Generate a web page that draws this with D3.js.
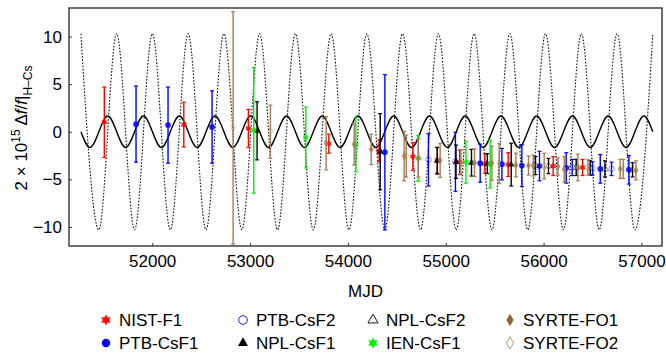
<!DOCTYPE html>
<html>
<head>
<meta charset="utf-8">
<script src="https://cdn.jsdelivr.net/npm/d3@7"></script>
<style>
body { margin: 0; background: #fff; }
text { font-family: "Liberation Sans", Arial, sans-serif; }
</style>
</head>
<body>
<div id="chart"></div>
<script>
'use strict';

// each point: [MJD, 2e15*df/f, error]
var nistF1 = [[51511, 1.0, 3.7], [52323, 0.75, 2.35], [52983, 0.35, 2.0], [53805, -1.25, 1.0],
    [54319, -2.0, 1.15], [54664, -2.6, 1.45], [54914, -3.0, 1.35], [55142, -3.2, 1.3],
    [55400, -3.35, 1.0], [55638, -3.45, 1.25], [56098, -3.6, 1.0], [56398, -3.75, 0.85]];
var ptbCsF1 = [[51835, 0.8, 4.0], [52162, 0.7, 4.0], [52612, 0.5, 3.8], [54378, -2.15, 8.15],
    [55352, -3.3, 2.0], [55574, -3.4, 1.65], [55778, -3.55, 2.2], [55958, -3.6, 1.55],
    [56231, -3.8, 1.6], [56579, -3.9, 1.5], [56872, -4.0, 1.5]];
var ptbCsF2 = [[54823, -2.95, 2.75], [55099, -3.15, 3.1], [56292, -3.75, 0.85],
    [56500, -3.85, 0.7], [56694, -3.9, 0.7]];
var nplCsF1 = [[53072, 0.1, 3.05], [54330, -2.1, 4.0], [54913, -3.05, 1.4], [55105, -3.15, 1.75],
    [55263, -3.25, 1.4], [55425, -3.35, 1.05], [55669, -3.45, 2.25]];
var nplCsF2 = [[55917, -3.55, 0.95], [56050, -3.6, 0.8], [56333, -3.75, 0.85],
    [56476, -3.8, 0.75], [56627, -3.9, 0.85], [56909, -4.0, 0.75]];
var ienCsF1 = [[53038, 0.15, 6.6], [53570, -0.6, 3.2], [54081, -1.35, 2.85], [54718, -2.8, 2.4],
    [55206, -3.2, 2.2], [55454, -3.4, 2.5]];
var syrteFO1 = [[53778, -1.2, 2.8], [54064, -1.3, 2.2], [54238, -1.85, 1.6], [54575, -2.55, 2.6],
    [54721, -2.75, 2.0], [54943, -3.0, 1.8], [55294, -3.25, 1.45], [55472, -3.3, 1.8],
    [55717, -3.5, 1.25], [55846, -3.55, 1.0], [55895, -3.55, 1.1], [56146, -3.65, 0.9],
    [56211, -3.95, 1.35], [56350, -3.75, 1.4], [56783, -3.9, 1.0], [56944, -4.05, 1.0]];
var syrteFO2 = [[52827, 0.4, 12.2], [53208, 0.0, 2.8], [54596, -2.55, 2.2], [55155, -3.2, 1.3],
    [55546, -3.35, 2.1], [56006, -3.6, 1.35], [56453, -3.75, 0.8], [56814, -3.9, 1.0]];

// model curves read at their turning points: [MJD, value]
var modelSolid = [[51272, 0], [51364, -1.65], [51546, 1.65], [51729, -1.65], [51911, 1.65],
    [52094, -1.65], [52277, 1.65], [52459, -1.65], [52642, 1.65], [52825, -1.65], [53007, 1.65],
    [53190, -1.65], [53373, 1.65], [53555, -1.65], [53738, 1.65], [53920, -1.65], [54103, 1.65],
    [54286, -1.65], [54468, 1.65], [54651, -1.65], [54834, 1.65], [55016, -1.65], [55199, 1.65],
    [55381, -1.65], [55564, 1.65], [55747, -1.65], [55929, 1.65], [56112, -1.65], [56295, 1.65],
    [56477, -1.65], [56660, 1.65], [56842, -1.65], [57025, 1.65], [57116, 0]];
var modelDotted = [[51272, 10.3], [51455, -10.3], [51637, 10.3], [51820, -10.3], [52002, 10.3],
    [52185, -10.3], [52368, 10.3], [52550, -10.3], [52733, 10.3], [52916, -10.3], [53098, 10.3],
    [53281, -10.3], [53464, 10.3], [53646, -10.3], [53829, 10.3], [54011, -10.3], [54194, 10.3],
    [54377, -10.3], [54559, 10.3], [54742, -10.3], [54925, 10.3], [55107, -10.3], [55290, 10.3],
    [55472, -10.3], [55655, 10.3], [55838, -10.3], [56020, 10.3], [56203, -10.3], [56386, 10.3],
    [56568, -10.3], [56751, 10.3], [56933, -10.3], [57116, 10.3]];

var xTicks = [52000, 53000, 54000, 55000, 56000, 57000];
var yTicks = [-10, -5, 0, 5, 10];
var xDomain = [51150, 57210];
var yDomain = [-12, 13];

function freqChart() {
    var scope = {};
    var exports = {};

    scope.cw = 666;
    scope.ch = 358;
    scope.margins = {top: 8, bottom: 112, left: 69, right: 4};
    scope.brown = '#a67c52';

    // six pointed star used by NIST and IEN
    scope.star6 = {
        draw: function(ctx, size) {
            var r = Math.sqrt(size / 1.6), ri = r * 0.55;
            for (var i = 0; i < 12; i++) {
                var a = i * Math.PI / 6 - Math.PI / 2;
                var rr = i % 2 ? ri : r;
                if (i === 0) ctx.moveTo(rr * Math.cos(a), rr * Math.sin(a));
                else ctx.lineTo(rr * Math.cos(a), rr * Math.sin(a));
            }
            ctx.closePath();
        }
    };

    scope.series = [
        {name: 'NIST-F1',   data: nistF1,   color: '#ff0000', sym: scope.star6,        size: 22, fill: true},
        {name: 'PTB-CsF1',  data: ptbCsF1,  color: '#0000ff', sym: d3.symbolCircle,   size: 26, fill: true},
        {name: 'PTB-CsF2',  data: ptbCsF2,  color: '#0000ff', sym: d3.symbolCircle,   size: 26, fill: false},
        {name: 'NPL-CsF1',  data: nplCsF1,  color: '#000000', sym: d3.symbolTriangle, size: 20, fill: true},
        {name: 'NPL-CsF2',  data: nplCsF2,  color: '#000000', sym: d3.symbolTriangle, size: 20, fill: false},
        {name: 'IEN-CsF1',  data: ienCsF1,  color: '#00ee00', sym: scope.star6,        size: 22, fill: true},
        {name: 'SYRTE-FO1', data: syrteFO1, color: scope.brown, sym: d3.symbolDiamond, size: 20, fill: true},
        {name: 'SYRTE-FO2', data: syrteFO2, color: scope.brown, sym: d3.symbolDiamond, size: 20, fill: false}
    ];

    scope.appendSvg = function(div) {
        return d3.select(div).append('svg')
            .attr('width', scope.cw)
            .attr('height', scope.ch);
    };

    scope.createScales = function() {
        var w = scope.cw - scope.margins.left - scope.margins.right;
        var h = scope.ch - scope.margins.top - scope.margins.bottom;
        scope.w = w;
        scope.h = h;
        scope.xScale = d3.scaleLinear().domain(xDomain).range([0, w]);
        scope.yScale = d3.scaleLinear().domain(yDomain).range([h, 0]);
    };

    scope.appendAxes = function(g) {
        var xAxis = d3.axisBottom(scope.xScale).tickValues(xTicks)
            .tickFormat(d3.format('d')).tickSizeInner(-3).tickSizeOuter(0).tickPadding(9);
        var yAxis = d3.axisLeft(scope.yScale).tickValues(yTicks)
            .tickSizeInner(-3).tickSizeOuter(0).tickPadding(7);

        var gx = g.append('g').attr('transform', 'translate(0,' + scope.h + ')').call(xAxis);
        var gy = g.append('g').call(yAxis);
        [gx, gy].forEach(function(a) {
            a.select('.domain').remove();
            a.selectAll('.tick line').attr('stroke', '#333');
            a.selectAll('.tick text').attr('fill', '#000')
                .style('font-family', '"Liberation Sans", Arial, sans-serif').style('font-size', '17px');
        });

        g.append('text')
            .attr('x', scope.w / 2).attr('y', scope.h + 51)
            .attr('text-anchor', 'middle').style('font-size', '17px')
            .text('MJD');

        var lab = svg_label(g);
        function svg_label(gg) {
            var t = gg.append('text')
                .attr('transform', 'translate(' + (27 - scope.margins.left) + ',' + (128 - scope.margins.top) + ') rotate(-90)')
                .attr('text-anchor', 'middle').style('font-size', '17px');
            t.append('tspan').text('2 \u00d7 10');
            t.append('tspan').attr('dy', -7).style('font-size', '12px').text('15');
            t.append('tspan').attr('dy', 7).text(' \u0394');
            t.append('tspan').style('font-style', 'italic').text('f');
            t.append('tspan').text('/');
            t.append('tspan').style('font-style', 'italic').text('f');
            t.append('tspan').text('|');
            t.append('tspan').attr('dy', 5).style('font-size', '12px').text('H\u2013Cs');
            return t;
        }
        return lab;
    };

    scope.appendCurves = function(g) {
        var line = d3.line()
            .x(function(d) { return scope.xScale(d[0]); })
            .y(function(d) { return scope.yScale(d[1]); })
            .curve(d3.curveMonotoneX);

        g.append('path').datum(modelDotted)
            .attr('d', line).attr('fill', 'none')
            .attr('stroke', '#111').attr('stroke-width', 1.1).attr('stroke-dasharray', '1.6,1.6');
        g.append('path').datum(modelSolid)
            .attr('d', line).attr('fill', 'none')
            .attr('stroke', '#000').attr('stroke-width', 1.4);
    };

    scope.appendPoints = function(g) {
        scope.series.forEach(function(s) {
            var sg = g.append('g').attr('class', 'series');
            var pts = sg.selectAll('g').data(s.data).enter().append('g');
            pts.append('line')
                .attr('x1', function(d) { return scope.xScale(d[0]); })
                .attr('x2', function(d) { return scope.xScale(d[0]); })
                .attr('y1', function(d) { return scope.yScale(d[1] + d[2]); })
                .attr('y2', function(d) { return scope.yScale(d[1] - d[2]); })
                .attr('stroke', s.color).attr('stroke-width', 1.4);
            [1, -1].forEach(function(sign) {
                pts.append('line')
                    .attr('x1', function(d) { return scope.xScale(d[0]) - 2; })
                    .attr('x2', function(d) { return scope.xScale(d[0]) + 2; })
                    .attr('y1', function(d) { return scope.yScale(d[1] + sign * d[2]); })
                    .attr('y2', function(d) { return scope.yScale(d[1] + sign * d[2]); })
                    .attr('stroke', s.color).attr('stroke-width', 1.2);
            });
            pts.append('path')
                .attr('transform', function(d) {
                    return 'translate(' + scope.xScale(d[0]) + ',' + scope.yScale(d[1]) + ')';
                })
                .attr('d', d3.symbol().type(s.sym).size(s.size))
                .attr('fill', s.fill ? s.color : 'none')
                .attr('stroke', s.color).attr('stroke-width', s.fill ? 0 : 0.8)
                .attr('opacity', s.fill ? 0.85 : 0.5);
        });
    };

    scope.appendLegend = function(svg) {
        var colX = [106, 243, 373, 510];
        var rowY = [320, 343];
        // legend order is column-wise: two entries per column
        var order = ['NIST-F1', 'PTB-CsF1', 'PTB-CsF2', 'NPL-CsF1', 'NPL-CsF2', 'IEN-CsF1', 'SYRTE-FO1', 'SYRTE-FO2'];
        var leg = svg.append('g');
        order.forEach(function(name, i) {
            var s = scope.series.filter(function(d) { return d.name === name; })[0];
            var x = colX[Math.floor(i / 2)], y = rowY[i % 2];
            var col = s.color;
            if (name === 'SYRTE-FO1') col = '#8c6239';
            if (name === 'SYRTE-FO2') col = '#b0906c';
            leg.append('path')
                .attr('transform', 'translate(' + x + ',' + y + ')')
                .attr('d', d3.symbol().type(s.sym).size(s.size * 2.2))
                .attr('fill', s.fill ? col : 'none')
                .attr('stroke', col).attr('stroke-width', s.fill ? 0 : 0.9);
            leg.append('text')
                .attr('x', x + 13).attr('y', y + 6)
                .style('font-size', '17px')
                .text(name);
        });
    };

    exports.run = function(div) {
        var svg = scope.appendSvg(div);
        scope.createScales();
        var g = svg.append('g')
            .attr('transform', 'translate(' + scope.margins.left + ',' + scope.margins.top + ')');

        g.append('clipPath').attr('id', 'plotclip')
            .append('rect').attr('width', scope.w).attr('height', scope.h);

        var plot = g.append('g').attr('clip-path', 'url(#plotclip)');
        scope.appendCurves(plot);
        scope.appendPoints(plot);

        g.append('rect')
            .attr('width', scope.w).attr('height', scope.h)
            .attr('fill', 'none').attr('stroke', '#333').attr('stroke-width', 1.4);

        scope.appendAxes(g);
        scope.appendLegend(svg);
    };

    return exports;
}

freqChart().run('#chart');
</script>
</body>
</html>
